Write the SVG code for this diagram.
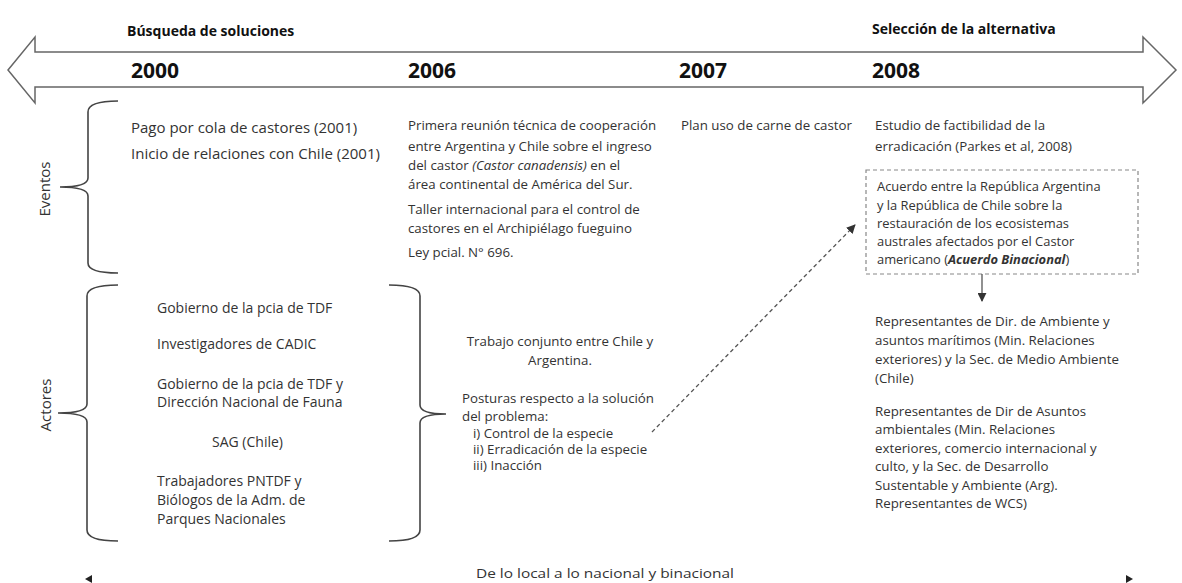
<svg xmlns="http://www.w3.org/2000/svg" width="1182" height="583" viewBox="0 0 1182 583">
<defs>
<style>
.t{font-family:"Open Sans","Liberation Sans",sans-serif;font-size:13.3px;fill:#333}
.e0{font-size:15px}
.bx{font-size:12.9px}
.la{font-size:14px}
.h{font-family:"Open Sans","Liberation Sans",sans-serif;font-size:14px;font-weight:bold;fill:#111}
.y{font-family:"Open Sans","Liberation Sans",sans-serif;font-size:21px;font-weight:bold;fill:#111}
.v{font-family:"Open Sans","Liberation Sans",sans-serif;font-size:15px;fill:#333}
.b{fill:none;stroke:#444;stroke-width:1.6}
.ln{fill:none;stroke:#555;stroke-width:1.3}
</style>
<marker id="ah" viewBox="0 0 10 10" refX="9" refY="5" markerWidth="9" markerHeight="9" markerUnits="userSpaceOnUse" orient="auto">
<path d="M0,0 L10,5 L0,10 z" fill="#333"/>
</marker>
</defs>
<rect width="1182" height="583" fill="#fff"/>

<g id="timeline">
<polygon points="8,70 35,37 35,52 1143,52 1143,37 1176,70 1143,103 1143,87 35,87 35,103" fill="#fff" stroke="#666" stroke-width="1.5"/>
<text class="h" x="127" y="36">Búsqueda de soluciones</text>
<text class="h" x="872" y="34">Selección de la alternativa</text>
<text class="y" x="131" y="78">2000</text>
<text class="y" x="408" y="78">2006</text>
<text class="y" x="679" y="78">2007</text>
<text class="y" x="872" y="78">2008</text>
</g>

<g id="eventos">
<path class="b" d="M118,101 Q88,101 88,112 L88,178 Q88,187 60,187 Q88,187 88,196 L88,263 Q88,273 118,273"/>
<text class="v" transform="translate(50,189) rotate(-90)" text-anchor="middle">Eventos</text>
</g>

<g id="ev2000">
<text class="t e0" x="131" y="133">Pago por cola de castores (2001)</text>
<text class="t e0" x="131" y="159">Inicio de relaciones con Chile (2001)</text>
</g>

<g id="ev2006">
<text class="t" x="408" y="130">Primera reunión técnica de cooperación</text>
<text class="t" x="408" y="151">entre Argentina y Chile sobre el ingreso</text>
<text class="t" x="408" y="170">del castor <tspan font-style="italic">(Castor canadensis)</tspan> en el</text>
<text class="t" x="408" y="189">área continental de América del Sur.</text>
<text class="t" x="408" y="214">Taller internacional para el control de</text>
<text class="t" x="408" y="233">castores en el Archipiélago fueguino</text>
<text class="t" x="408" y="257">Ley pcial. N° 696.</text>
</g>

<g id="ev2007">
<text class="t" x="681" y="130">Plan uso de carne de castor</text>
</g>

<g id="ev2008">
<text class="t" x="875" y="130">Estudio de factibilidad de la</text>
<text class="t" x="875" y="151">erradicación (Parkes et al, 2008)</text>
</g>

<g id="acuerdo">
<rect x="866" y="170" width="272" height="104" fill="#fff" stroke="#888" stroke-width="1.2" stroke-dasharray="4 3"/>
<text class="t bx" x="877" y="191">Acuerdo entre la República Argentina</text>
<text class="t bx" x="877" y="210">y la República de Chile sobre la</text>
<text class="t bx" x="877" y="228">restauración de los ecosistemas</text>
<text class="t bx" x="877" y="246">australes afectados por el Castor</text>
<text class="t bx" x="877" y="264">americano (<tspan font-style="italic" font-weight="bold">Acuerdo Binacional</tspan>)</text>
</g>

<g id="actores">
<path class="b" d="M118,285 Q87,285 87,296 L87,404 Q87,413 58,413 Q87,413 87,422 L87,530 Q87,541 118,541"/>
<text class="v" transform="translate(51,405) rotate(-90)" text-anchor="middle">Actores</text>
<text class="t la" x="157" y="313">Gobierno de la pcia de TDF</text>
<text class="t la" x="157" y="349">Investigadores de CADIC</text>
<text class="t la" x="157" y="389">Gobierno de la pcia de TDF y</text>
<text class="t la" x="157" y="407">Dirección Nacional de Fauna</text>
<text class="t la" x="212" y="447">SAG (Chile)</text>
<text class="t la" x="157" y="486">Trabajadores PNTDF y</text>
<text class="t la" x="157" y="505">Biólogos de la Adm. de</text>
<text class="t la" x="157" y="524">Parques Nacionales</text>
<path class="b" d="M389,285 Q420,285 420,296 L420,405 Q420,414 446,414 Q420,414 420,423 L420,530 Q420,541 389,541"/>
</g>

<g id="act2006">
<text class="t" x="560" y="346" text-anchor="middle">Trabajo conjunto entre Chile y</text>
<text class="t" x="560" y="365" text-anchor="middle">Argentina.</text>
<text class="t" x="462" y="403">Posturas respecto a la solución</text>
<text class="t" x="462" y="421">del problema:</text>
<text class="t" x="473" y="438">i) Control de la especie</text>
<text class="t" x="473" y="454">ii) Erradicación de la especie</text>
<text class="t" x="473" y="470">iii) Inacción</text>
</g>

<g id="act2008">
<text class="t" x="875" y="326">Representantes de Dir. de Ambiente y</text>
<text class="t" x="875" y="345">asuntos marítimos (Min. Relaciones</text>
<text class="t" x="875" y="364">exteriores) y la Sec. de Medio Ambiente</text>
<text class="t" x="875" y="383">(Chile)</text>
<text class="t" x="875" y="416">Representantes de Dir de Asuntos</text>
<text class="t" x="875" y="434">ambientales (Min. Relaciones</text>
<text class="t" x="875" y="453">exteriores, comercio internacional y</text>
<text class="t" x="875" y="471">culto, y la Sec. de Desarrollo</text>
<text class="t" x="875" y="490">Sustentable y Ambiente (Arg).</text>
<text class="t" x="875" y="508">Representantes de WCS)</text>
</g>

<g id="connectors">
<line class="ln" x1="652" y1="432" x2="855" y2="225" stroke-dasharray="4 3" marker-end="url(#ah)"/>
<line class="ln" x1="982" y1="274" x2="982" y2="301" marker-end="url(#ah)"/>
</g>

<g id="escala">
<polygon points="85,579 92,575 92,583" fill="#222"/>
<polygon points="1133,579 1126,575 1126,583" fill="#222"/>
<text class="t" x="605" y="578" text-anchor="middle" textLength="258" lengthAdjust="spacingAndGlyphs">De lo local a lo nacional y binacional</text>
</g>
</svg>
